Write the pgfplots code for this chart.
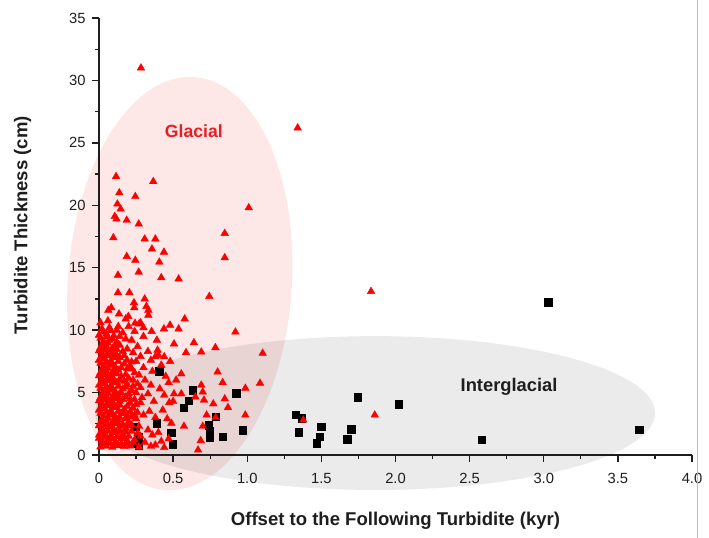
\documentclass[border=0pt]{standalone}
\usepackage{fontspec}
\setmainfont{Liberation Sans}
\usepackage{pgfplots}
\pgfplotsset{compat=1.18}

\definecolor{glpink}{RGB}{253,231,231}
\definecolor{iggrey}{RGB}{235,235,235}
\definecolor{axisgrey}{RGB}{30,30,30}
\definecolor{glred}{RGB}{228,32,36}
\definecolor{edgepink}{RGB}{240,170,170}

\begin{document}
\begin{tikzpicture}
\begin{axis}[
  scale only axis, width=593bp, height=437bp,
  xmin=0, xmax=4, ymin=0, ymax=35,
  axis lines*=left,
  axis on top,
  clip=false,
  axis line style={line width=1.5bp, axisgrey},
  tick align=outside,
  major tick length=7bp, minor tick length=4bp,
  every tick/.style={line width=1.3bp, axisgrey},
  xtick={0,0.5,1,1.5,2,2.5,3,3.5,4},
  xticklabels={0,0.5,1.0,1.5,2.0,2.5,3.0,3.5,4.0},
  ytick={0,5,10,15,20,25,30,35},
  minor x tick num=1, minor y tick num=1,
  /pgf/number format/assume math mode=true,
  tick label style={font=\fontsize{14.8}{16}\selectfont, text=axisgrey},
  yticklabel style={xshift=-3bp},
  xticklabel style={yshift=-8bp},
  xlabel={Offset to the Following Turbidite (kyr)},
  ylabel={Turbidite Thickness (cm)},
  label style={font=\bfseries\fontsize{18.6}{21}\selectfont, text=axisgrey},
  xlabel style={at={(axis description cs:0.5,-0.151)}, anchor=center},
  ylabel style={at={(axis description cs:-0.129,0.526)}, anchor=center},
]

% shaded groups
\fill[iggrey] (axis cs:1.862,3.36) ellipse [x radius=1.889, y radius=6.16];
\path (axis cs:0.545,13.73) coordinate (gc);
\fill[glpink, blend mode=multiply, rotate around={-4:(gc)}] (gc) ellipse [x radius=112bp, y radius=207bp];

% interglacial
\addplot[only marks, mark=square*, mark size=3.7bp, mark options={fill=black, draw=black}] table {
x y
0.245 2.25
0.265 1.47
0.250 0.95
0.268 0.80
0.389 2.55
0.406 6.70
0.487 1.77
0.496 0.88
0.573 3.80
0.605 4.35
0.634 5.18
0.740 2.40
0.745 1.90
0.748 1.42
0.787 3.07
0.836 1.47
0.926 4.95
0.969 2.00
1.327 3.25
1.368 2.95
1.347 1.84
1.498 2.28
1.487 1.47
1.468 0.95
1.747 4.62
1.700 2.08
1.675 1.28
2.020 4.08
2.580 1.23
3.030 12.25
3.643 2.05
};

% glacial
\addplot[only marks, mark=triangle*, mark size=4.4bp, mark options={fill=red, draw=red}] table {
x y
0.283 31.0
1.340 26.2
0.115 22.3
0.137 21.0
0.366 21.9
0.245 20.7
0.124 20.1
0.146 19.7
0.106 19.1
0.118 18.9
0.187 18.8
0.268 18.5
1.010 19.8
0.848 17.75
0.097 17.4
0.308 17.3
0.380 17.3
0.357 16.5
0.438 16.25
0.848 15.8
0.187 15.9
0.245 15.6
0.407 15.45
0.128 14.4
0.268 14.65
0.420 14.2
0.537 14.1
0.128 13.0
0.205 13.0
0.744 12.7
0.308 12.5
0.236 12.2
0.238 11.8
0.320 11.9
0.333 11.6
0.083 11.8
0.063 11.6
0.135 11.3
0.198 11.1
0.333 11.2
0.578 10.9
0.920 9.85
0.537 10.1
0.479 10.4
0.438 10.1
0.640 9.0
0.506 8.9
0.785 8.6
0.587 8.2
0.690 8.25
1.104 8.15
0.800 6.65
0.555 6.5
0.834 5.8
0.987 5.35
1.086 5.75
0.690 5.6
0.700 5.05
0.506 4.9
0.555 4.9
0.650 4.65
0.848 4.5
0.708 4.4
0.474 4.2
0.771 4.1
0.870 3.8
0.987 3.2
0.726 3.2
0.488 2.55
0.573 2.3
0.700 2.3
1.378 2.8
0.470 1.3
0.686 1.15
0.668 0.4
1.835 13.1
1.860 3.2
0.787 3.0
0.395 8.4
0.440 7.87
0.380 7.87
0.243 10.55
0.270 10.5
0.300 10.2
0.355 9.9
0.01 0.65
0.05 0.70
0.09 0.62
0.13 0.75
0.17 0.68
0.21 0.72
0.27 0.65
0.02 1.10
0.06 1.20
0.11 1.05
0.15 1.30
0.19 1.15
0.00 1.60
0.04 1.70
0.08 1.55
0.12 1.80
0.16 1.65
0.22 1.90
0.02 2.10
0.06 2.25
0.10 2.05
0.14 2.30
0.18 2.15
0.01 2.60
0.05 2.70
0.09 2.55
0.13 2.80
0.20 2.65
0.25 2.90
0.03 3.10
0.07 3.20
0.11 3.05
0.15 3.30
0.19 3.15
0.00 3.60
0.04 3.70
0.08 3.55
0.12 3.80
0.17 3.65
0.23 3.75
0.02 4.10
0.06 4.20
0.10 4.05
0.14 4.30
0.21 4.15
0.28 4.20
0.01 4.60
0.05 4.70
0.09 4.55
0.13 4.80
0.18 4.65
0.03 5.10
0.07 5.20
0.11 5.05
0.16 5.30
0.22 5.15
0.00 5.60
0.04 5.70
0.08 5.55
0.12 5.80
0.19 5.65
0.26 5.70
0.02 6.10
0.06 6.20
0.10 6.05
0.15 6.30
0.20 6.15
0.01 6.60
0.05 6.70
0.09 6.55
0.13 6.80
0.24 6.60
0.03 7.10
0.07 7.20
0.11 7.05
0.17 7.30
0.21 7.10
0.00 7.60
0.04 7.70
0.08 7.55
0.14 7.80
0.19 7.60
0.02 8.10
0.06 8.20
0.10 8.05
0.16 8.30
0.23 8.20
0.01 8.60
0.05 8.70
0.09 8.55
0.14 8.80
0.03 9.10
0.07 9.20
0.12 9.05
0.18 9.30
0.00 9.60
0.05 9.70
0.10 9.55
0.16 9.80
0.02 10.10
0.07 10.20
0.13 10.30
0.01 10.60
0.06 10.75
0.18 10.90
0.24 1.20
0.28 1.50
0.31 1.00
0.33 2.00
0.27 2.30
0.30 3.20
0.34 3.50
0.26 3.40
0.29 4.60
0.33 4.90
0.25 5.00
0.28 5.40
0.31 6.00
0.27 6.40
0.30 7.00
0.25 7.50
0.28 7.90
0.33 8.30
0.26 8.70
0.22 9.20
0.30 9.50
0.24 9.90
0.20 10.30
0.28 10.60
0.35 7.60
0.36 6.70
0.35 5.60
0.37 4.30
0.38 3.00
0.36 1.60
0.22 6.90
0.23 5.50
0.21 4.50
0.24 3.20
0.22 2.40
0.40 8.00
0.42 7.20
0.45 6.30
0.41 5.30
0.44 4.80
0.43 3.60
0.40 1.80
0.47 5.80
0.46 2.90
0.39 9.20
0.48 7.50
0.50 4.30
0.52 6.00
0.42 1.10
0.38 0.80
0.44 0.60
0.35 0.70
0.03 0.90
0.07 0.95
0.11 0.85
0.15 0.90
0.19 0.95
0.23 1.00
0.00 1.35
0.04 1.40
0.08 1.30
0.12 1.45
0.16 1.40
0.20 1.50
0.26 1.75
0.02 1.85
0.06 1.90
0.10 1.80
0.14 1.95
0.18 1.85
0.00 2.35
0.04 2.40
0.08 2.30
0.12 2.50
0.16 2.45
0.20 2.35
0.02 2.85
0.06 2.95
0.10 2.80
0.14 3.00
0.18 2.90
0.22 3.05
0.01 3.35
0.05 3.40
0.09 3.30
0.13 3.50
0.17 3.40
0.21 3.45
0.02 3.85
0.06 3.95
0.10 3.80
0.14 4.00
0.19 3.90
0.25 4.05
0.00 4.35
0.04 4.40
0.08 4.30
0.12 4.50
0.16 4.45
0.24 4.45
0.02 4.85
0.06 4.95
0.10 4.80
0.15 5.00
0.20 4.90
0.01 5.35
0.05 5.40
0.09 5.30
0.13 5.50
0.18 5.45
0.02 5.85
0.06 5.95
0.10 5.80
0.14 6.00
0.17 5.90
0.23 6.00
0.00 6.35
0.04 6.40
0.08 6.30
0.12 6.50
0.18 6.45
0.02 6.85
0.06 6.95
0.10 6.80
0.15 7.00
0.19 6.90
0.01 7.35
0.05 7.40
0.09 7.30
0.13 7.50
0.22 7.45
0.02 7.85
0.06 7.95
0.10 7.80
0.12 8.00
0.17 7.95
0.00 8.35
0.04 8.40
0.08 8.30
0.12 8.45
0.19 8.50
0.02 8.85
0.06 8.95
0.11 8.80
0.01 9.35
0.05 9.45
0.09 9.30
0.14 9.50
0.03 9.85
0.08 9.95
0.12 10.00
};

\node[text=glred, font=\bfseries\fontsize{17.7}{20}\selectfont] at (axis cs:0.64,25.9) {Glacial};
\node[text=axisgrey, font=\bfseries\fontsize{18.4}{21}\selectfont] at (axis cs:2.766,5.47) {Interglacial};
\end{axis}
\draw[edgepink, line width=0.8bp] (598bp,-83bp) -- (598bp,455bp);
\pgfresetboundingbox
\path[use as bounding box] (-99bp,-83bp) rectangle (610bp,455bp);
\end{tikzpicture}
\end{document}
